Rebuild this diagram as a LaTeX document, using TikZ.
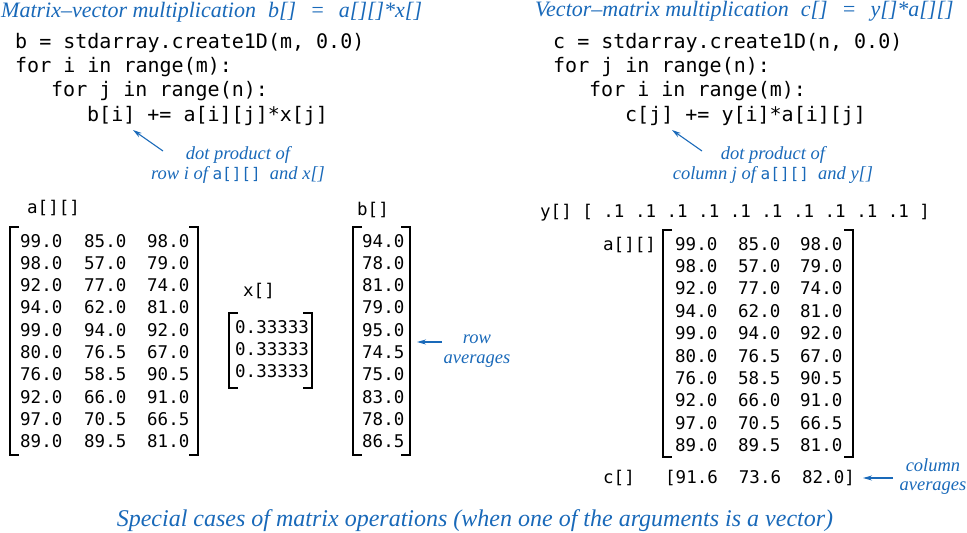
\documentclass[tikz,border=0pt]{standalone}
\usepackage{fontspec}
\setmainfont{Liberation Serif}
\setmonofont{DejaVu Sans Mono}
\usetikzlibrary{arrows.meta, positioning}
\definecolor{notes}{RGB}{25, 105, 185}

% rows of a[][]
\newcommand{\amatrows}{99.0/85.0/98.0, 98.0/57.0/79.0, 92.0/77.0/74.0, 94.0/62.0/81.0,
  99.0/94.0/92.0, 80.0/76.5/67.0, 76.0/58.5/90.5, 92.0/66.0/91.0, 97.0/70.5/66.5, 89.0/89.5/81.0}
% pair of square brackets: left x, right x, top y, bottom y
\newcommand{\sqbrackets}[4]{%
  \draw[brk] (#1+9,#3) -| (#1,#4) -- (#1+9,#4);
  \draw[brk] (#2-9,#3) -| (#2,#4) -- (#2-9,#4);}

\begin{document}
\begin{tikzpicture}[
    x=1pt, y=-1pt,
    code/.style={font=\ttfamily\fontsize{20}{24}\selectfont, anchor=base west, inner sep=0pt},
    num/.style={font=\ttfamily\fontsize{17.5}{22}\selectfont, anchor=base west, inner sep=0pt},
    head/.style={font=\itshape\fontsize{22}{24}\selectfont, text=notes, anchor=base west, inner sep=0pt},
    note/.style={font=\itshape\fontsize{18.5}{20}\selectfont, text=notes, align=center, anchor=base, inner sep=0pt},
    arr/.style={-{Stealth[length=9pt, width=5pt]}, notes, line width=1.1pt},
    brk/.style={line width=2pt},
  ]
  \useasboundingbox (0,0) rectangle (967,533);

  % matrix-vector side
  \node[head] (titleL) at (1,17) {Matrix--vector multiplication\hspace{12pt}b[]\hspace{14pt}=\hspace{14pt}a[][]*x[]};
  \node[code] (codeL1) at (15,48)    {b = stdarray.create1D(m, 0.0)};
  \node[code] (codeL2) at (15,72.3)  {for i in range(m):};
  \node[code] (codeL3) at (51,96.6)  {for j in range(n):};
  \node[code] (codeL4) at (87,121)   {b[i] += a[i][j]*x[j]};
  \node[note] (dotL) at (238,179) {dot product of\\row i of {\upshape\ttfamily\fontsize{16}{20}\selectfont a[][]}\ \ and x[]};
  \coordinate (tipL) at (133,130);
  \coordinate (tailL) at (163,151);
  \draw[arr] (tailL) -- (tipL);

  \node[num] (labA) at (27,213) {a[][]};
  \foreach \p/\q/\s [count=\k from 0] in \amatrows {
    \node[num] (aL-\k-1) at (20,247+22.3*\k)  {\p};
    \node[num] (aL-\k-2) at (84,247+22.3*\k)  {\q};
    \node[num] (aL-\k-3) at (147,247+22.3*\k) {\s};
  }
  \sqbrackets{10}{198}{227}{455}

  \node[num] (labX) at (243,296) {x[]};
  \foreach \k in {0,1,2}
    \node[num] (x-\k) at (235,333+22*\k) {0.33333};
  \sqbrackets{229}{312}{313}{388}

  \node[num] (labB) at (357,215) {b[]};
  \foreach \v [count=\k from 0] in {94.0,78.0,81.0,79.0,95.0,74.5,75.0,83.0,78.0,86.5}
    \node[num] (b-\k) at (362,247+22.3*\k) {\v};
  \sqbrackets{353}{410}{227}{455}

  \node[note] (rowavg) at (477,363) {row\\averages};
  \coordinate (tipB) at (417,342);
  \coordinate (tailB) at (442,342);
  \draw[arr] (tailB) -- (tipB);

  % vector-matrix side
  \node[head] (titleR) at (535,16) {Vector--matrix multiplication\hspace{12pt}c[]\hspace{14pt}=\hspace{14pt}y[]*a[][]};
  \node[code] (codeR1) at (553,48)   {c = stdarray.create1D(n, 0.0)};
  \node[code] (codeR2) at (553,72.3) {for j in range(n):};
  \node[code] (codeR3) at (589,96.6) {for i in range(m):};
  \node[code] (codeR4) at (625,121)  {c[j] += y[i]*a[i][j]};
  \node[note] (dotR) at (773,179) {dot product of\\column j of {\upshape\ttfamily\fontsize{16}{20}\selectfont a[][]}\ \ and y[]};
  \coordinate (tipR) at (672,130);
  \coordinate (tailR) at (702,151);
  \draw[arr] (tailR) -- (tipR);

  \node[num] (yvec) at (540,217) {y[] [ .1 .1 .1 .1 .1 .1 .1 .1 .1 .1 ]};
  \node[num] (labA2) at (603,250) {a[][]};
  \foreach \p/\q/\s [count=\k from 0] in \amatrows {
    \node[num] (aR-\k-1) at (675,250+22.4*\k) {\p};
    \node[num] (aR-\k-2) at (738,250+22.4*\k) {\q};
    \node[num] (aR-\k-3) at (800,250+22.4*\k) {\s};
  }
  \sqbrackets{663}{853}{230}{457}

  \node[num] (labC) at (603,483) {c[]};
  \node[num] (cvec) at (665,483) {[91.6\ \ 73.6\ \ 82.0]};
  \node[note, font=\itshape\fontsize{18.5}{18.5}\selectfont] (colavg) at (933,490) {column\\averages};
  \coordinate (tipC) at (863,478);
  \coordinate (tailC) at (893,478);
  \draw[arr] (tailC) -- (tipC);

  \node[note, font=\itshape\fontsize{24}{26}\selectfont] (caption) at (475,526)
    {Special cases of matrix operations (when one of the arguments is a vector)};
\end{tikzpicture}
\end{document}
